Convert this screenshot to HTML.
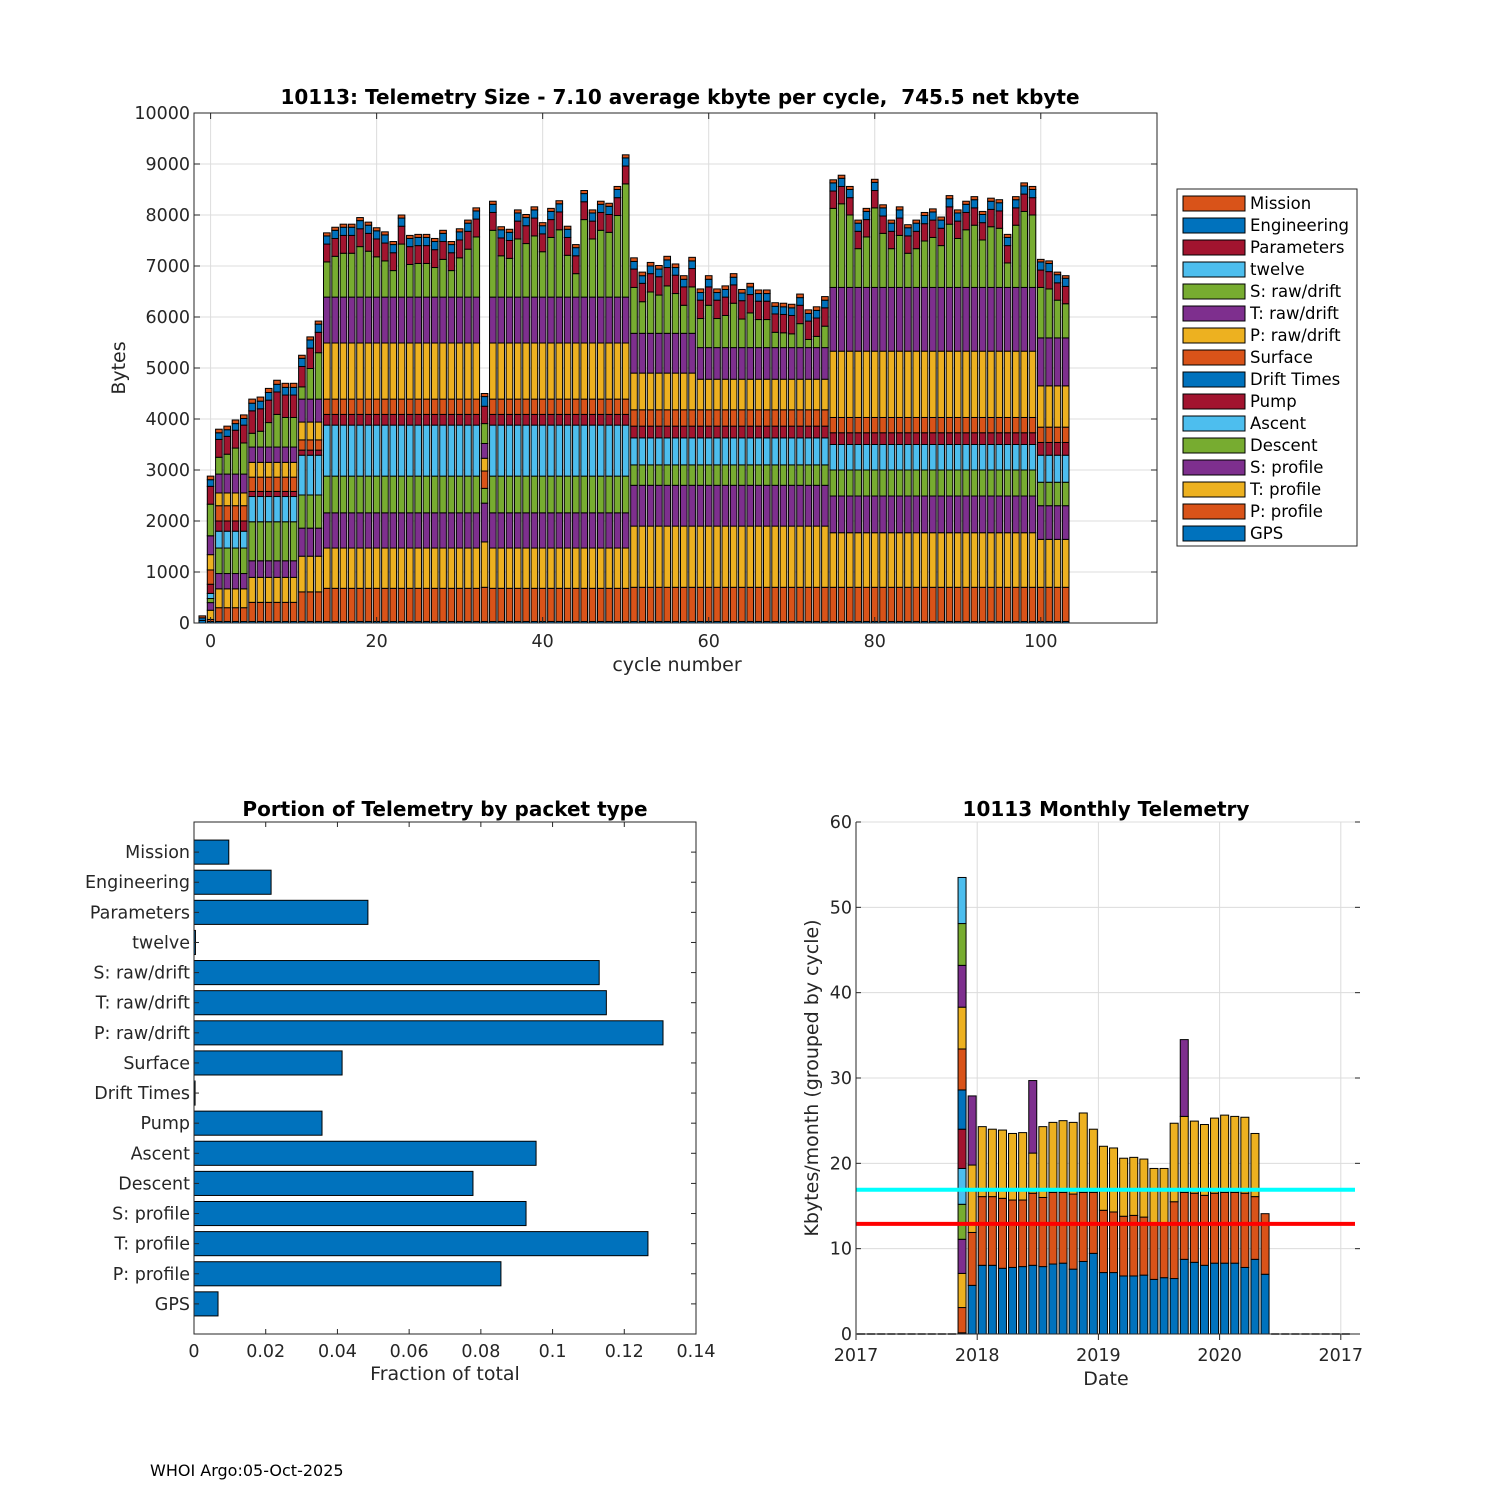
<!DOCTYPE html>
<html><head><meta charset="utf-8"><title>10113 Telemetry</title>
<style>
html,body{margin:0;padding:0;background:#fff;}
svg{display:block;font-family:"DejaVu Sans","Liberation Sans",sans-serif;}
.tk{font-size:17.5px;fill:#262626;}
.ttl{font-size:20px;font-weight:bold;fill:#000;white-space:pre;}
.lab{font-size:19px;fill:#262626;}
</style></head>
<body>
<svg id="fig" width="1500" height="1500" viewBox="0 0 1500 1500" xmlns="http://www.w3.org/2000/svg">
<rect width="1500" height="1500" fill="#fff"/>
<g id="top"></g>
<g id="bl"></g>
<g id="br"></g>
<text x="150" y="1476" font-size="16" fill="#000">WHOI Argo:05-Oct-2025</text>
</svg>
<script>
// ===== Top chart data (cycles -1..103) =====
const layerNames = ["GPS","P: profile","T: profile","S: profile","Descent","Ascent","Pump","Drift Times","Surface","P: raw/drift","T: raw/drift","S: raw/drift","twelve","Parameters","Engineering","Mission"];
const gps = [50,30,
30,30,30,30, 30,30,30,30,30,30, 30,30,30,
30,30,30,30,30,30,30,30,30,30,30,30,30,30,30,30,30,30,30,
30,
30,30,30,30,30,30,30,30,30,30,30,30,30,30,30,30,30,
30,30,30,30,30,30,30,30,
30,30,30,30,30,30,30,30,30,30,30,30,30,30,30,30,
30,30,30,30,30,30,30,30,30,30,30,30,30,30,30,30,30,30,30,30,30,30,30,30,30,
30,30,30,30];
const pprof = [0,40,
270,270,270,270, 375,375,375,375,375,375, 580,580,580,
650,650,650,650,650,650,650,650,650,650,650,650,650,650,650,650,650,650,650,
670,
650,650,650,650,650,650,650,650,650,650,650,650,650,650,650,650,650,
670,670,670,670,670,670,670,670,
670,670,670,670,670,670,670,670,670,670,670,670,670,670,670,670,
670,670,670,670,670,670,670,670,670,670,670,670,670,670,670,670,670,670,670,670,670,670,670,670,670,
670,670,670,670];
const tprof = [0,180,
370,370,370,370, 490,490,490,490,490,490, 700,700,700,
790,790,790,790,790,790,790,790,790,790,790,790,790,790,790,790,790,790,790,
890,
790,790,790,790,790,790,790,790,790,790,790,790,790,790,790,790,790,
1200,1200,1200,1200,1200,1200,1200,1200,
1200,1200,1200,1200,1200,1200,1200,1200,1200,1200,1200,1200,1200,1200,1200,1200,
1070,1070,1070,1070,1070,1070,1070,1070,1070,1070,1070,1070,1070,1070,1070,1070,1070,1070,1070,1070,1070,1070,1070,1070,1070,
940,940,940,940];
const sprof = [0,150,
300,300,300,300, 325,325,325,325,325,325, 550,550,550,
690,690,690,690,690,690,690,690,690,690,690,690,690,690,690,690,690,690,690,
760,
690,690,690,690,690,690,690,690,690,690,690,690,690,690,690,690,690,
800,800,800,800,800,800,800,800,
800,800,800,800,800,800,800,800,800,800,800,800,800,800,800,800,
720,720,720,720,720,720,720,720,720,720,720,720,720,720,720,720,720,720,720,720,720,720,720,720,720,
660,660,660,660];
const descent = [0,80,
500,500,500,500, 765,765,765,765,765,765, 650,650,650,
720,720,720,720,720,720,720,720,720,720,720,720,720,720,720,720,720,720,720,
290,
720,720,720,720,720,720,720,720,720,720,720,720,720,720,720,720,720,
400,400,400,400,400,400,400,400,
400,400,400,400,400,400,400,400,400,400,400,400,400,400,400,400,
510,510,510,510,510,510,510,510,510,510,510,510,510,510,510,510,510,510,510,510,510,510,510,510,510,
460,460,460,460];
const ascent = [0,100,
330,330,330,330, 495,495,495,495,495,495, 780,780,780,
1000,1000,1000,1000,1000,1000,1000,1000,1000,1000,1000,1000,1000,1000,1000,1000,1000,1000,1000,
0,
1000,1000,1000,1000,1000,1000,1000,1000,1000,1000,1000,1000,1000,1000,1000,1000,1000,
530,530,530,530,530,530,530,530,
530,530,530,530,530,530,530,530,530,530,530,530,530,530,530,530,
500,500,500,500,500,500,500,500,500,500,500,500,500,500,500,500,500,500,500,500,500,500,500,500,500,
530,530,530,530];
const pump = [0,180,
200,200,200,200, 100,100,100,100,100,100, 100,100,100,
210,210,210,210,210,210,210,210,210,210,210,210,210,210,210,210,210,210,210,
0,
210,210,210,210,210,210,210,210,210,210,210,210,210,210,210,210,210,
230,230,230,230,230,230,230,230,
230,230,230,230,230,230,230,230,230,230,230,230,230,230,230,230,
230,230,230,230,230,230,230,230,230,230,230,230,230,230,230,230,230,230,230,230,230,230,230,230,230,
250,250,250,250];
const drift = [0,0,
0,0,0,0, 0,0,0,0,0,0, 0,0,0,
0,0,0,0,0,0,0,0,0,0,0,0,0,0,0,0,0,0,0,
0,
0,0,0,0,0,0,0,0,0,0,0,0,0,0,0,0,0,
0,0,0,0,0,0,0,0,
0,0,0,0,0,0,0,0,0,0,0,0,0,0,0,0,
0,0,0,0,0,0,0,0,0,0,0,0,0,0,0,0,0,0,0,0,0,0,0,0,0,
0,0,0,0];
const surface = [0,280,
300,300,300,300, 280,280,280,280,280,280, 200,200,200,
300,300,300,300,300,300,300,300,300,300,300,300,300,300,300,300,300,300,300,
340,
300,300,300,300,300,300,300,300,300,300,300,300,300,300,300,300,300,
320,320,320,320,320,320,320,320,
320,320,320,320,320,320,320,320,320,320,320,320,320,320,320,320,
300,300,300,300,300,300,300,300,300,300,300,300,300,300,300,300,300,300,300,300,300,300,300,300,300,
300,300,300,300];
const praw = [0,300,
250,250,250,250, 290,290,290,290,290,290, 350,350,350,
1100,1100,1100,1100,1100,1100,1100,1100,1100,1100,1100,1100,1100,1100,1100,1100,1100,1100,1100,
250,
1100,1100,1100,1100,1100,1100,1100,1100,1100,1100,1100,1100,1100,1100,1100,1100,1100,
720,720,720,720,720,720,720,720,
600,600,600,600,600,600,600,600,600,600,600,600,600,600,600,600,
1300,1300,1300,1300,1300,1300,1300,1300,1300,1300,1300,1300,1300,1300,1300,1300,1300,1300,1300,1300,1300,1300,1300,1300,1300,
810,810,810,810];
const traw = [0,370,
370,370,370,370, 300,300,300,300,300,300, 450,450,450,
900,900,900,900,900,900,900,900,900,900,900,900,900,900,900,900,900,900,900,
290,
900,900,900,900,900,900,900,900,900,900,900,900,900,900,900,900,900,
780,780,780,780,780,780,780,780,
620,620,620,620,620,620,620,620,620,620,620,620,620,620,620,620,
1250,1250,1250,1250,1250,1250,1250,1250,1250,1250,1250,1250,1250,1250,1250,1250,1250,1250,1250,1250,1250,1250,1250,1250,1250,
940,940,940,940];
const sraw = [0,620,
330,390,510,610, 270,310,480,640,580,580, 240,600,910,
690,800,860,860,990,900,790,710,520,1040,640,660,660,580,740,520,770,940,1180,
390,
1310,810,760,1140,1050,1200,890,1170,1320,820,460,1520,1140,1310,1270,1600,2220,
900,620,810,750,930,780,550,910,
570,830,570,630,870,560,680,550,550,300,290,270,470,160,220,420,
1550,1640,1420,760,990,1560,1060,760,1020,670,760,910,980,820,1240,960,1130,1220,930,1190,1160,480,1220,1490,1420,
990,960,740,670];
const twelve = [0,0,
0,0,0,0, 0,0,0,0,0,0, 0,0,0,
0,0,0,0,0,0,0,0,0,0,0,0,0,0,0,0,0,0,0,
0,
0,0,0,0,0,0,0,0,0,0,0,0,0,0,0,0,0,
0,0,0,0,0,0,0,0,
0,0,0,0,0,0,0,0,0,0,0,0,0,0,0,0,
0,0,0,0,0,0,0,0,0,0,0,0,0,0,0,0,0,0,0,0,0,0,0,0,0,
0,0,0,0];
const params = [0,350,
350,350,350,350, 440,440,440,440,440,440, 400,400,400,
350,350,350,350,350,350,350,350,350,350,350,350,350,350,350,350,350,350,350,
340,
350,350,350,350,350,350,350,350,350,350,350,350,350,350,350,350,350,
360,360,360,360,360,360,360,360,
360,360,360,360,360,360,360,360,360,360,360,360,360,360,360,360,
340,340,340,340,340,340,340,340,340,340,340,340,340,340,340,340,340,340,340,340,340,340,340,340,340,
340,340,340,340];
const eng = [50,130,
130,130,130,130, 150,150,150,150,150,150, 160,160,160,
160,160,160,160,160,160,160,160,160,160,160,160,160,160,160,160,160,160,160,
190,
160,160,160,160,160,160,160,160,160,160,160,160,160,160,160,160,160,
150,150,150,150,150,150,150,150,
150,150,150,150,150,150,150,150,150,150,150,150,150,150,150,150,
160,160,160,160,160,160,160,160,160,160,160,160,160,160,160,160,160,160,160,160,160,160,160,160,160,
160,160,160,160];
const mission = [40,70,
70,70,70,70, 80,80,80,80,80,80, 60,60,60,
60,60,60,60,60,60,60,60,60,60,60,60,60,60,60,60,60,60,60,
60,
60,60,60,60,60,60,60,60,60,60,60,60,60,60,60,60,60,
70,70,70,70,70,70,70,70,
70,70,70,70,70,70,70,70,70,70,70,70,70,70,70,70,
60,60,60,60,60,60,60,60,60,60,60,60,60,60,60,60,60,60,60,60,60,60,60,60,60,
50,50,50,50];
const firstCycle = -1;
const xTicksTop = [0,20,40,60,80,100];
const yTicksTop = [0,1000,2000,3000,4000,5000,6000,7000,8000,9000,10000];

// ===== Bottom-left data =====
const packetNames = ["Mission","Engineering","Parameters","twelve","S: raw/drift","T: raw/drift","P: raw/drift","Surface","Drift Times","Pump","Ascent","Descent","S: profile","T: profile","P: profile","GPS"];
const packetFractions = [0.0097,0.0215,0.0485,0.0004,0.113,0.115,0.1308,0.0413,0.0003,0.0357,0.0954,0.0778,0.0926,0.1266,0.0856,0.0067];
const fracTicks = [0,0.02,0.04,0.06,0.08,0.1,0.12,0.14];
const fracTickLabels = ["0","0.02","0.04","0.06","0.08","0.1","0.12","0.14"];

// ===== Bottom-right data =====
const monthFirst = 10; // Nov 2017 (months since Jan 2017)
const monthCount = 49;
const monthlyCycleKb = [
 [0.14,2.96,4.0,4.0,4.1,4.2,4.6,4.6,4.8,4.9,4.9,4.9,5.4],
 [5.7,6.2,7.9,8.1],[8.05,8.05,8.2],[8.05,8.05,7.9],[7.7,8.2,8.0],[7.8,7.9,7.8],[7.9,7.8,7.9],
 [8.05,8.45,4.7,8.5],[7.9,8.1,8.3],[8.2,8.4,8.2],[8.3,8.3,8.4],[7.6,8.8,8.4],[8.5,8.1,9.3],
 [9.45,7.15,7.4],[7.2,7.3,7.5],[7.2,7.1,7.5],[6.8,7.0,6.8],[6.8,7.1,6.8],[6.9,6.8,6.8],
 [6.4,6.5,6.5],[6.6,6.4,6.4],[6.5,9.0,9.2],[8.75,7.85,8.9,9.0],[8.4,8.1,8.45],[8.05,8.2,8.3],
 [8.3,8.2,8.8],[8.3,8.3,9.05],[8.3,8.3,8.9],[7.8,8.7,8.9],[8.75,7.35,7.4],[7.0,7.1]
];
const yearTicks = [0,12,24,36,48];
const yearLabels = ["2017","2018","2019","2020","2017"];
const kbTicks = [0,10,20,30,40,50,60];
const meanLineCyan = 16.9;
const meanLineRed = 12.9;

// ===== helpers =====
const NS = "http://www.w3.org/2000/svg";
function mk(parent, tag, attrs, text){
  const e = document.createElementNS(NS, tag);
  for (const k in attrs) e.setAttribute(k, attrs[k]);
  if (text !== undefined) e.textContent = text;
  parent.appendChild(e);
  return e;
}
const C = {blue:"#0072BD",orange:"#D95319",yellow:"#EDB120",purple:"#7E2F8E",green:"#77AC30",lblue:"#4DBEEE",red:"#A2142F"};
const cycleColors = [C.blue,C.orange,C.yellow,C.purple,C.green,C.lblue,C.red];

// ===== TOP CHART =====
(function(){
  const g = document.getElementById('top');
  const L=194,R=1157,T=113,B=623, xmin=-2,xmax=114, ymax=10000;
  const sx = v => L + (v-xmin)/(xmax-xmin)*(R-L);
  const sy = v => B - v/ymax*(B-T);
  xTicksTop.forEach(t=>{ const l=mk(g,'line',{x1:sx(t),x2:sx(t),y1:T,y2:B,stroke:'#dcdcdc','stroke-width':1});
      });
  yTicksTop.forEach(t=>{ const l=mk(g,'line',{x1:L,x2:R,y1:sy(t),y2:sy(t),stroke:'#dcdcdc','stroke-width':1});
      });
  const layers = [gps,pprof,tprof,sprof,descent,ascent,pump,drift,surface,praw,traw,sraw,twelve,params,eng,mission];
  const layerColors = [C.blue,C.orange,C.yellow,C.purple,C.green,C.lblue,C.red,C.blue,C.orange,C.yellow,C.purple,C.green,C.lblue,C.red,C.blue,C.orange];
  const bw = 0.8*(R-L)/(xmax-xmin);
  for (let i=0;i<gps.length;i++){
    const cyc = firstCycle+i;
    let cum=0;
    for (let k=0;k<layers.length;k++){
      const v = layers[k][i];
      if (!v) continue;
      const y1=sy(cum+v), y0=sy(cum);
      const r = mk(g,'rect',{x:sx(cyc)-bw/2,y:y1,width:bw,height:Math.max(0,y0-y1),fill:layerColors[k],stroke:'#000','stroke-width':1});
      
      
      cum+=v;
    }
  }
  const bx = mk(g,'rect',{x:L,y:T,width:R-L,height:B-T,fill:'none',stroke:'#262626','stroke-width':1});
   
  xTicksTop.forEach(t=>{
    mk(g,'line',{x1:sx(t),x2:sx(t),y1:B,y2:B-6,stroke:'#262626'});
    mk(g,'line',{x1:sx(t),x2:sx(t),y1:T,y2:T+6,stroke:'#262626'});
    const tx = mk(g,'text',{x:sx(t),y:B+24,'text-anchor':'middle',class:'tk'},String(t));
     
  });
  yTicksTop.forEach(t=>{
    mk(g,'line',{x1:L,x2:L+6,y1:sy(t),y2:sy(t),stroke:'#262626'});
    mk(g,'line',{x1:R,x2:R-6,y1:sy(t),y2:sy(t),stroke:'#262626'});
    const tx = mk(g,'text',{x:L-4,y:sy(t)+6,'text-anchor':'end',class:'tk'},String(t));
     
  });
  const tt = mk(g,'text',{x:680,y:104,'text-anchor':'middle',class:'ttl'},'10113: Telemetry Size - 7.10 average kbyte per cycle,  745.5 net kbyte');
   
  const xl = mk(g,'text',{x:677,y:671,'text-anchor':'middle',class:'lab'},'cycle number');
   
  const yl = mk(g,'text',{x:125,y:368,'text-anchor':'middle',class:'lab',transform:'rotate(-90 125 368)'},'Bytes');
   
  const lg = mk(g,'g',{});
   
  mk(lg,'rect',{x:1177,y:189,width:180,height:357,fill:'#fff',stroke:'#262626','stroke-width':1});
  for (let j=0;j<16;j++){
    const k = 15-j;
    const y = 203 + j*22;
    const e = mk(lg,'g',{});
     
    mk(e,'rect',{x:1183,y:y-7,width:62,height:15,fill:layerColors[k],stroke:'#000','stroke-width':1});
    mk(e,'text',{x:1250,y:y+6,'font-size':'16.5',fill:'#000'},layerNames[k]);
  }
})();

// ===== BOTTOM-LEFT CHART =====
(function(){
  const g = document.getElementById('bl');
  const L=194,R=696,T=822,B=1334, xmax=0.14, n=packetNames.length;
  const sx = v => L + v/xmax*(R-L);
  const band = (B-T)/(n+1);
  const sy = i => T + band*(i+1);
  for (let i=0;i<n;i++){
    const h = band*0.8;
    const r = mk(g,'rect',{x:L,y:sy(i)-h/2,width:Math.max(0,sx(packetFractions[i])-L),height:h,fill:C.blue,stroke:'#000','stroke-width':1});
    
    
    mk(g,'line',{x1:L,x2:L+5,y1:sy(i),y2:sy(i),stroke:'#262626'});
    mk(g,'line',{x1:R,x2:R-5,y1:sy(i),y2:sy(i),stroke:'#262626'});
    const t = mk(g,'text',{x:L-4,y:sy(i)+6,'text-anchor':'end',class:'tk'},packetNames[i]);
     
  }
  const bx = mk(g,'rect',{x:L,y:T,width:R-L,height:B-T,fill:'none',stroke:'#262626','stroke-width':1});
   
  fracTicks.forEach((t,i)=>{
    mk(g,'line',{x1:sx(t),x2:sx(t),y1:B,y2:B-5,stroke:'#262626'});
    mk(g,'line',{x1:sx(t),x2:sx(t),y1:T,y2:T+5,stroke:'#262626'});
    const tx = mk(g,'text',{x:sx(t),y:B+23,'text-anchor':'middle',class:'tk'},fracTickLabels[i]);
     
  });
  const tt = mk(g,'text',{x:445,y:816,'text-anchor':'middle',class:'ttl'},'Portion of Telemetry by packet type');
   
  const xl = mk(g,'text',{x:445,y:1380,'text-anchor':'middle',class:'lab'},'Fraction of total');
   
})();

// ===== BOTTOM-RIGHT CHART =====
(function(){
  const g = document.getElementById('br');
  const L=856,R=1360,T=822,B=1334, ymax=60, mw=10.1;
  const sx = m => L + m*mw;
  const sy = v => B - v/ymax*(B-T);
  kbTicks.forEach(t=>{ const l=mk(g,'line',{x1:L,x2:R,y1:sy(t),y2:sy(t),stroke:'#dcdcdc'});
      });
  yearTicks.forEach(t=>{ const l=mk(g,'line',{x1:sx(t),x2:sx(t),y1:T,y2:B,stroke:'#dcdcdc'});
      });
  const bw = 8;
  for (let m=0;m<monthCount;m++){
    const cx = sx(m+0.5);
    const idx = m - monthFirst;
    if (idx<0 || idx>=monthlyCycleKb.length){
      const z = mk(g,'line',{x1:cx-bw/2,x2:cx+bw/2,y1:B,y2:B,stroke:'#000','stroke-width':1.5});
       
      continue;
    }
    let cum=0;
    monthlyCycleKb[idx].forEach((v,j)=>{
      const y1=sy(cum+v), y0=sy(cum);
      const r = mk(g,'rect',{x:cx-bw/2,y:y1,width:bw,height:Math.max(0,y0-y1),fill:cycleColors[j%7],stroke:'#000','stroke-width':1});
      
      
      cum+=v;
    });
  }
  const lc = mk(g,'line',{x1:L,x2:1355,y1:sy(meanLineCyan),y2:sy(meanLineCyan),stroke:'#00FFFF','stroke-width':4});
   
  const lr = mk(g,'line',{x1:L,x2:1355,y1:sy(meanLineRed),y2:sy(meanLineRed),stroke:'#FF0000','stroke-width':4});
   
  const ax = mk(g,'path',{d:`M${L},${T}L${L},${B}L${R},${B}`,fill:'none',stroke:'#262626'});
   
  kbTicks.forEach(t=>{
    mk(g,'line',{x1:L,x2:L+5,y1:sy(t),y2:sy(t),stroke:'#262626'});
    mk(g,'line',{x1:R,x2:R-5,y1:sy(t),y2:sy(t),stroke:'#262626'});
    const tx = mk(g,'text',{x:L-4,y:sy(t)+6,'text-anchor':'end',class:'tk'},String(t));
     
  });
  yearTicks.forEach((t,i)=>{
    mk(g,'line',{x1:sx(t),x2:sx(t),y1:B,y2:B+6,stroke:'#262626'});
    const tx = mk(g,'text',{x:sx(t),y:B+27,'text-anchor':'middle',class:'tk'},yearLabels[i]);
     
  });
  const tt = mk(g,'text',{x:1106,y:816,'text-anchor':'middle',class:'ttl'},'10113 Monthly Telemetry');
   
  const xl = mk(g,'text',{x:1106,y:1385,'text-anchor':'middle',class:'lab'},'Date');
   
  const yl = mk(g,'text',{x:818,y:1078,'text-anchor':'middle',class:'lab',transform:'rotate(-90 818 1078)'},'Kbytes/month (grouped by cycle)');
   
})();
</script>
</body></html>
